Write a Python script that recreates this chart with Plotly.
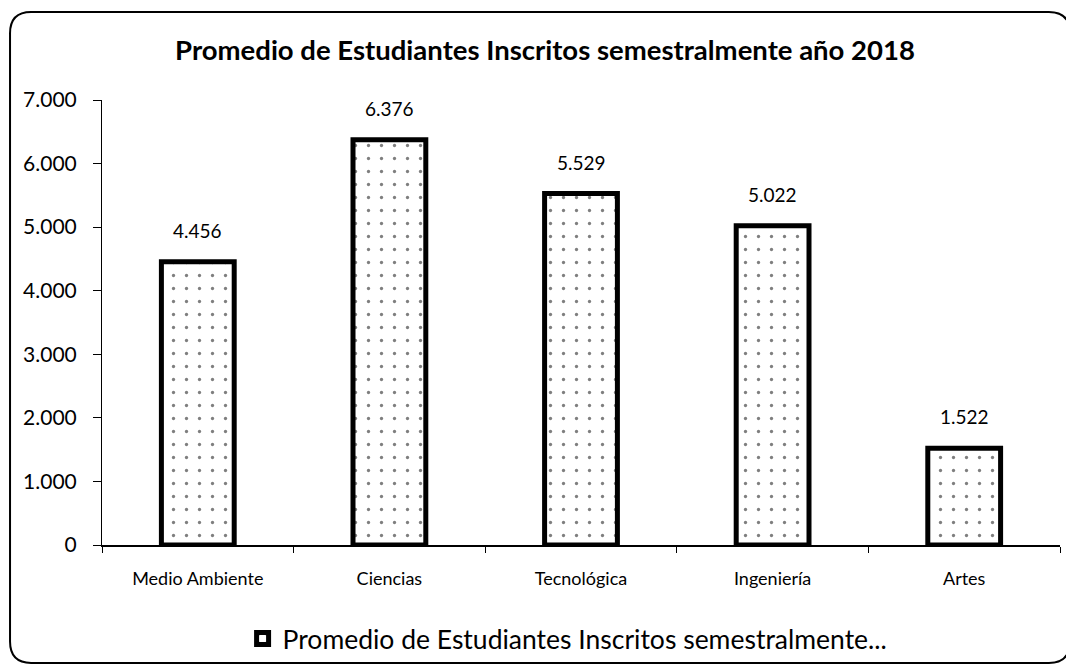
import plotly.graph_objects as go

categories = ["Medio Ambiente", "Ciencias", "Tecnológica", "Ingeniería", "Artes"]
values = [4456, 6376, 5529, 5022, 1522]
series_name = "Promedio de Estudiantes Inscritos semestralmente..."
title_text = "Promedio de Estudiantes Inscritos semestralmente año 2018"
y_ticks = [0, 1000, 2000, 3000, 4000, 5000, 6000, 7000]

FONT = "Lato, Open Sans, sans-serif"

fig = go.Figure()
fig.add_trace(go.Bar(
    x=categories, y=values, name=series_name, width=0.38,
    marker=dict(color="white", line=dict(color="black", width=5),
                pattern=dict(shape=".", fgcolor="black", bgcolor="white", size=13, solidity=0.05)),
    showlegend=True,
))

for c, v in zip(categories, values):
    fig.add_annotation(x=c, y=v, text=f"{v:,d}".replace(",", "."), showarrow=False,
                       yanchor="bottom", yshift=18,
                       font=dict(size=19, family=FONT, color="black"))

# rounded border around whole chart (paper coords)
x0, x1 = -0.096, 1.0104
y0, y1 = -0.265, 1.198
rx, ry = 0.022, 0.048
path = (f"M {x0+rx},{y1} L {x1-rx},{y1} Q {x1},{y1} {x1},{y1-ry} "
        f"L {x1},{y0+ry} Q {x1},{y0} {x1-rx},{y0} L {x0+rx},{y0} "
        f"Q {x0},{y0} {x0},{y0+ry} L {x0},{y1-ry} Q {x0},{y1} {x0+rx},{y1} Z")

fig.update_layout(
    width=1074, height=668,
    margin=dict(l=94, r=22, t=92, b=131, autoexpand=False),
    paper_bgcolor="white", plot_bgcolor="white",
    separators=",.",
    font=dict(family=FONT, color="black", size=18),
    title=dict(text=f"<b>{title_text}</b>", x=0.5, xref="container", xanchor="center",
               y=0.937, yref="container", yanchor="middle",
               font=dict(size=27.5, family=FONT, color="black")),
    shapes=[dict(type="path", path=path, xref="paper", yref="paper",
                 line=dict(color="black", width=2), fillcolor="rgba(0,0,0,0)", layer="below")],
    legend=dict(orientation="h", x=0.486, xanchor="center", y=-0.211, yanchor="middle",
                bgcolor="rgba(0,0,0,0)",
                font=dict(size=26.5, family=FONT, color="black"), itemwidth=30),
)
fig.update_yaxes(range=[0, 7000], tickvals=y_ticks, tickformat=",d", automargin=False,
                 showline=True, linecolor="black", linewidth=1,
                 ticks="outside", ticklen=8, tickcolor="black", ticklabelstandoff=12,
                 showgrid=False, zeroline=False, tickfont=dict(size=21))
fig.update_xaxes(showline=True, linecolor="black", linewidth=2, automargin=False,
                 ticks="outside", tickson="boundaries", ticklen=6, tickcolor="black",
                 ticklabelstandoff=16,
                 showgrid=False, tickfont=dict(size=18))

fig.write_html("out.html")
